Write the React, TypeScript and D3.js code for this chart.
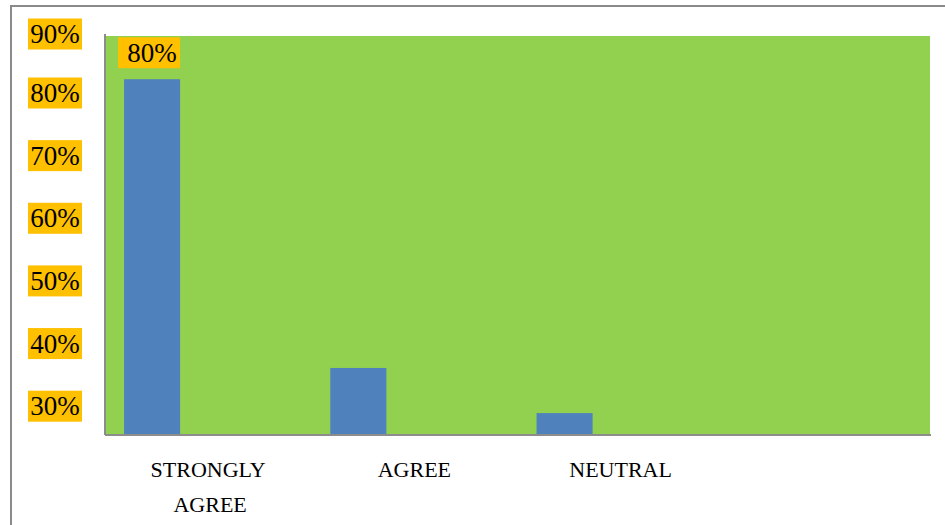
import React from "react";
import * as d3 from "d3";

const categories = ["STRONGLY AGREE", "AGREE", "NEUTRAL", ""];
const seriesNames = ["S1", "S2", "S3"];
const values = [82.2, 36.1, 28.9, null];
const dataLabels = ["80%", "", "", ""];
const yTicks = [30, 40, 50, 60, 70, 80, 90];

const W = 945;
const H = 525;
const plot = { left: 105, right: 930, top: 36, bottom: 435 };

export default function App() {
  const x0 = d3.scaleBand<string>().domain(categories.map((c, i) => String(i))).range([plot.left, plot.right]).paddingInner(0).paddingOuter(0);
  const x1 = d3.scaleBand<string>().domain(seriesNames).range([0, x0.bandwidth()]).paddingInner(0).paddingOuter(0.34);
  const y = d3.scaleLinear().domain([25.4, 89.1]).range([plot.bottom, plot.top]);

  const serifFont = "'Liberation Serif', 'DejaVu Serif', serif";
  const boxW = 54;
  const boxH = 31;

  return (
    <svg width={W} height={H} style={{ position: "absolute", left: 0, top: 0, background: "#fff" }}>
      {/* outer frame */}
      <rect x={11} y={6} width={W + 20} height={H + 20} fill="none" stroke="#8a8a8a" strokeWidth={2} />
      {/* plot background */}
      <rect x={plot.left} y={plot.top} width={plot.right - plot.left} height={plot.bottom - plot.top} fill="#92D050" />
      {/* bars */}
      {values.map((v, i) => {
        if (v == null) return null;
        const bx = (x0(String(i)) as number) + (x1(seriesNames[0]) as number);
        return (
          <rect key={i} x={bx} y={y(v)} width={x1.bandwidth()} height={plot.bottom - y(v)} fill="#4F81BD" />
        );
      })}
      {/* data labels */}
      {values.map((v, i) => {
        if (v == null || !dataLabels[i]) return null;
        const cx = (x0(String(i)) as number) + (x1(seriesNames[0]) as number) + x1.bandwidth() / 2 - 3;
        const cy = y(v) - 11 - boxH / 2;
        return (
          <g key={i}>
            <rect x={cx - 31} y={cy - boxH / 2} width={62} height={boxH} fill="#FFC000" />
            <text x={cx + 3} y={cy} dy="0.34em" textAnchor="middle" fontFamily={serifFont} fontSize={27} fill="#000">
              {dataLabels[i]}
            </text>
          </g>
        );
      })}
      {/* axes */}
      <line x1={plot.left} x2={plot.left} y1={plot.top - 2} y2={plot.bottom} stroke="#8c8c8c" strokeWidth={2} />
      <line x1={plot.left} x2={plot.right + 1} y1={plot.bottom} y2={plot.bottom} stroke="#8c8c8c" strokeWidth={2} />
      {/* y tick labels */}
      {yTicks.map((t) => {
        const cy = Math.max(y(t), 34);
        return (
          <g key={t}>
            <rect x={28} y={cy - boxH / 2} width={boxW} height={boxH} fill="#FFC000" />
            <text x={28 + boxW / 2} y={cy} dy="0.34em" textAnchor="middle" fontFamily={serifFont} fontSize={27} fill="#000">
              {t + "%"}
            </text>
          </g>
        );
      })}
      {/* x category labels */}
      {categories.map((c, i) => {
        const cx = (x0(String(i)) as number) + x0.bandwidth() / 2;
        const words = c.split(" ");
        return (
          <text key={i} x={cx} y={470} textAnchor="middle" fontFamily={serifFont} fontSize={22} fill="#000">
            {words.map((w, j) => (
              <tspan key={j} x={cx + (j > 0 ? 2 : 0)} dy={j === 0 ? "0.34em" : 35}>
                {w}
              </tspan>
            ))}
          </text>
        );
      })}
    </svg>
  );
}
